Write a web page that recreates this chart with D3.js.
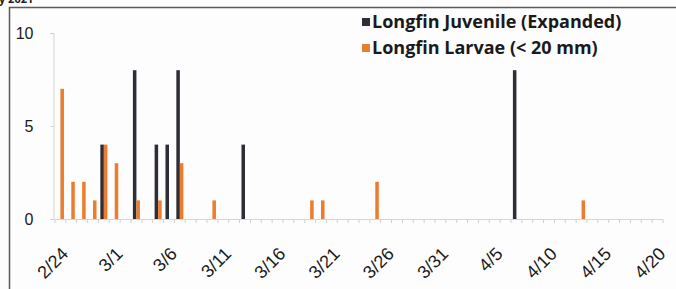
<!DOCTYPE html>
<html>
<head>
<meta charset="utf-8">
<script src="https://cdn.jsdelivr.net/npm/d3@7"></script>
<style>
  html, body { margin: 0; padding: 0; background: #fdfdfd; overflow: hidden; }
  svg { display: block; font-family: "Open Sans", Lato, sans-serif; }
</style>
</head>
<body>
<svg id="chart"></svg>
<script>
// Categories: one per day, 2/24 through 4/20
const dates = [
  "2/24", "2/25", "2/26", "2/27", "2/28",
  "3/1", "3/2", "3/3", "3/4", "3/5", "3/6", "3/7", "3/8", "3/9", "3/10",
  "3/11", "3/12", "3/13", "3/14", "3/15", "3/16", "3/17", "3/18", "3/19", "3/20",
  "3/21", "3/22", "3/23", "3/24", "3/25", "3/26", "3/27", "3/28", "3/29", "3/30", "3/31",
  "4/1", "4/2", "4/3", "4/4", "4/5", "4/6", "4/7", "4/8", "4/9", "4/10",
  "4/11", "4/12", "4/13", "4/14", "4/15", "4/16", "4/17", "4/18", "4/19", "4/20"
];

// Counts (days not listed are zero)
const juvenile = [
  { date: "2/28", value: 4 },
  { date: "3/3", value: 8 },
  { date: "3/5", value: 4 },
  { date: "3/6", value: 4 },
  { date: "3/7", value: 8 },
  { date: "3/13", value: 4 },
  { date: "4/7", value: 8 }
];
const larvae = [
  { date: "2/24", value: 7 },
  { date: "2/25", value: 2 },
  { date: "2/26", value: 2 },
  { date: "2/27", value: 1 },
  { date: "2/28", value: 4 },
  { date: "3/1", value: 3 },
  { date: "3/3", value: 1 },
  { date: "3/5", value: 1 },
  { date: "3/7", value: 3 },
  { date: "3/10", value: 1 },
  { date: "3/19", value: 1 },
  { date: "3/20", value: 1 },
  { date: "3/25", value: 2 },
  { date: "4/13", value: 1 }
];

const xTickLabels = ["2/24", "3/1", "3/6", "3/11", "3/16", "3/21", "3/26", "3/31", "4/5", "4/10", "4/15", "4/20"];
const yTickValues = [0, 5, 10];

const seriesNames = ["Longfin Juvenile (Expanded)", "Longfin Larvae (< 20 mm)"];
const seriesColors = ["#2e2e36", "#ec7d30"];

// Chart dimensions
const width = 676;
const height = 289;
const plot = { left: 55, right: 663, top: 33, bottom: 219 };

const svg = d3.select("#chart").attr("width", width).attr("height", height);

// Scales
const xScale = d3
  .scaleBand()
  .domain(dates)
  .range([plot.left, plot.right])
  .paddingInner(0.35)
  .paddingOuter(0.175);

const xSub = d3
  .scaleBand()
  .domain(["juvenile", "larvae"])
  .range([0, xScale.bandwidth()]);

const yScale = d3.scaleLinear().domain([0, 10]).range([plot.bottom, plot.top]);

// Outer frame of the figure
svg
  .append("path")
  .attr("d", `M9.5,${height + 2}V7.5H${width + 2}`)
  .attr("fill", "none")
  .attr("stroke", "#5a5a5a")
  .attr("stroke-width", 1.5);

// Title text cut by the top edge (as in the scan)
svg
  .append("text")
  .attr("x", -1)
  .attr("y", 3)
  .style("font-size", "11px")
  .style("font-weight", "bold")
  .attr("fill", "#222")
  .text("y 2021");

// Y axis
const yAxis = d3.axisLeft(yScale).tickValues(yTickValues).tickSize(3).tickPadding(17);
const yG = svg
  .append("g")
  .attr("transform", `translate(${plot.left - 1.5}, 0)`)
  .call(yAxis);
yG.select(".domain").attr("stroke", "#d6d6d6");
yG.selectAll(".tick line").attr("stroke", "#cfcfcf");
yG.selectAll("text").attr("fill", "#1a1a1a").style("font-size", "16px").attr("dy", "0.36em");

// X axis line and small boundary ticks
svg
  .append("line")
  .attr("x1", plot.left)
  .attr("x2", plot.right)
  .attr("y1", plot.bottom + 0.5)
  .attr("y2", plot.bottom + 0.5)
  .attr("stroke", "#d6d6d6");

const gap = (xScale.step() - xScale.bandwidth()) / 2;
svg
  .append("g")
  .selectAll("line")
  .data(dates.concat(["end"]))
  .enter()
  .append("line")
  .attr("x1", (d, i) => (i < dates.length ? xScale(d) - gap : plot.right))
  .attr("x2", (d, i) => (i < dates.length ? xScale(d) - gap : plot.right))
  .attr("y1", plot.bottom + 0.5)
  .attr("y2", plot.bottom + 4)
  .attr("stroke", "#cfcfcf");

// X tick labels, rotated
const xAxis = d3.axisBottom(xScale).tickValues(xTickLabels).tickSize(0).tickPadding(0);
const xG = svg
  .append("g")
  .attr("transform", `translate(0, ${plot.bottom})`)
  .call(xAxis);
xG.select(".domain").remove();
xG.selectAll("text")
  .attr("fill", "#1a1a1a")
  .style("font-size", "18px")
  .attr("text-anchor", "end")
  .attr("dy", null)
  .attr("y", 0)
  .attr("transform", "translate(9, 36) rotate(-45)");

// Bars
svg
  .append("g")
  .selectAll("rect")
  .data(juvenile)
  .enter()
  .append("rect")
  .attr("x", (d) => xScale(d.date) + xSub("juvenile"))
  .attr("width", xSub.bandwidth())
  .attr("y", (d) => yScale(d.value))
  .attr("height", (d) => yScale(0) - yScale(d.value))
  .attr("fill", seriesColors[0]);

svg
  .append("g")
  .selectAll("rect")
  .data(larvae)
  .enter()
  .append("rect")
  .attr("x", (d) => xScale(d.date) + xSub("larvae"))
  .attr("width", xSub.bandwidth())
  .attr("y", (d) => yScale(d.value))
  .attr("height", (d) => yScale(0) - yScale(d.value))
  .attr("fill", seriesColors[1]);

// Legend
const legend = svg
  .append("g")
  .selectAll("g")
  .data(seriesNames)
  .enter()
  .append("g")
  .attr("transform", (d, i) => `translate(362, ${18 + i * 26})`);

legend
  .append("rect")
  .attr("width", 8)
  .attr("height", 8)
  .attr("fill", (d, i) => seriesColors[i]);

legend
  .append("text")
  .attr("x", 10)
  .attr("y", 9.5)
  .attr("fill", "#1a1a1a")
  .style("font-size", "18px")
  .style("font-weight", "bold")
  .text((d) => d);
</script>
</body>
</html>
